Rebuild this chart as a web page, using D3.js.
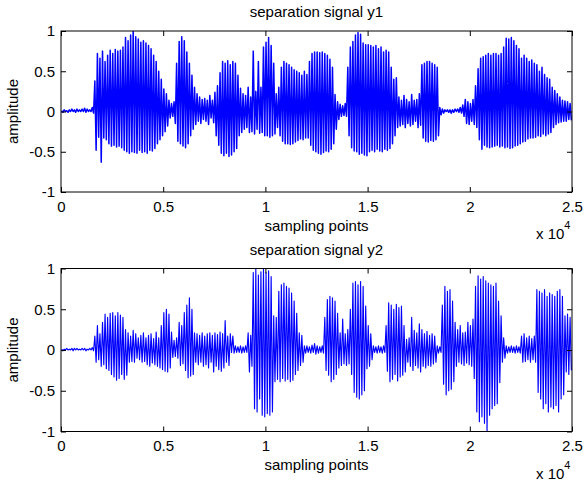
<!DOCTYPE html>
<html>
<head>
<meta charset="utf-8">
<script src="https://cdn.jsdelivr.net/npm/d3@7"></script>
<style>
  body { margin: 0; background: #fff; }
  text { font-family: "Liberation Sans", Arial, Helvetica, sans-serif; fill: #000; }
</style>
</head>
<body>
<svg id="chart" width="584" height="483"></svg>
<script>
// Envelope of each separated signal: per bin of 125 samples, the peak and trough amplitude.
const BIN = 125;
const N_SAMPLES = 25000;

const y1Max = [
  0.01,0.02,0.01,0.02,0.03,0.02,0.03,0.02,
  0.03,0.04,0.03,0.02,0.05,0.38,0.72,0.66,
  0.75,0.62,0.70,0.76,0.72,0.77,0.75,0.76,
  0.80,0.92,0.88,0.95,1.00,0.93,0.90,0.86,
  0.88,0.85,0.82,0.78,0.70,0.62,0.50,0.40,
  0.28,0.22,0.14,0.10,0.12,0.60,0.87,0.93,
  0.88,0.74,0.60,0.45,0.30,0.22,0.18,0.15,
  0.16,0.14,0.20,0.14,0.24,0.32,0.48,0.62,
  0.60,0.63,0.58,0.62,0.60,0.45,0.29,0.22,
  0.20,0.30,0.18,0.75,0.25,0.62,0.30,0.80,
  0.86,0.92,0.82,0.60,0.22,0.30,0.55,0.62,
  0.60,0.58,0.55,0.52,0.50,0.48,0.45,0.50,
  0.46,0.62,0.72,0.74,0.74,0.73,0.74,0.72,
  0.70,0.65,0.55,0.21,0.12,0.09,0.07,0.10,
  0.55,0.80,0.87,0.95,0.98,0.96,0.85,0.83,
  0.83,0.82,0.80,0.82,0.78,0.80,0.74,0.76,
  0.74,0.55,0.40,0.42,0.18,0.14,0.20,0.15,
  0.12,0.21,0.14,0.15,0.22,0.58,0.60,0.62,
  0.62,0.60,0.58,0.55,0.05,0.03,0.02,0.02,
  0.02,0.02,0.03,0.03,0.05,0.08,0.15,0.12,
  0.10,0.15,0.32,0.53,0.66,0.68,0.70,0.72,
  0.70,0.72,0.72,0.70,0.72,0.80,0.91,0.90,
  0.92,0.88,0.82,0.78,0.66,0.70,0.66,0.62,
  0.64,0.60,0.58,0.50,0.55,0.46,0.42,0.40,
  0.30,0.26,0.22,0.18,0.14,0.13,0.12,0.10
];
const y1Min = [
  -0.01,0.00,-0.01,0.00,0.00,-0.01,0.00,0.00,
  0.00,-0.01,0.00,0.00,-0.02,-0.48,-0.32,-0.63,
  -0.33,-0.35,-0.40,-0.43,-0.42,-0.44,-0.43,-0.45,
  -0.48,-0.50,-0.52,-0.50,-0.51,-0.52,-0.48,-0.51,
  -0.50,-0.52,-0.48,-0.49,-0.46,-0.40,-0.35,-0.30,
  -0.25,-0.18,-0.08,-0.06,-0.15,-0.37,-0.40,-0.43,
  -0.45,-0.40,-0.30,-0.22,-0.16,-0.12,-0.15,-0.10,
  -0.12,-0.16,-0.08,-0.14,-0.30,-0.42,-0.52,-0.55,
  -0.52,-0.56,-0.54,-0.50,-0.46,-0.30,-0.26,-0.22,
  -0.20,-0.26,-0.25,-0.28,-0.22,-0.27,-0.26,-0.30,
  -0.30,-0.32,-0.30,-0.28,-0.20,-0.30,-0.37,-0.40,
  -0.40,-0.41,-0.40,-0.38,-0.36,-0.34,-0.35,-0.33,
  -0.33,-0.42,-0.48,-0.50,-0.52,-0.53,-0.51,-0.49,
  -0.50,-0.47,-0.40,-0.22,-0.10,-0.06,-0.05,-0.06,
  -0.30,-0.45,-0.49,-0.50,-0.53,-0.52,-0.54,-0.55,
  -0.50,-0.48,-0.50,-0.47,-0.49,-0.50,-0.47,-0.48,
  -0.46,-0.40,-0.30,-0.20,-0.18,-0.16,-0.20,-0.15,
  -0.18,-0.16,-0.12,-0.20,-0.17,-0.33,-0.37,-0.38,
  -0.36,-0.37,-0.35,-0.30,-0.04,-0.02,0.00,-0.01,
  -0.02,-0.01,0.00,-0.01,-0.02,-0.06,-0.15,-0.16,
  -0.12,-0.16,-0.20,-0.35,-0.47,-0.42,-0.44,-0.45,
  -0.44,-0.43,-0.42,-0.44,-0.43,-0.45,-0.44,-0.46,
  -0.45,-0.43,-0.42,-0.40,-0.38,-0.37,-0.34,-0.33,
  -0.33,-0.32,-0.30,-0.31,-0.28,-0.30,-0.28,-0.26,
  -0.20,-0.16,-0.14,-0.13,-0.12,-0.12,-0.10,-0.11
];

const y2Max = [
  0.01,0.01,0.02,0.01,0.02,0.02,0.02,0.01,
  0.02,0.02,0.01,0.02,0.03,0.17,0.30,0.20,
  0.34,0.44,0.40,0.45,0.46,0.42,0.46,0.43,
  0.40,0.25,0.21,0.17,0.24,0.20,0.15,0.18,
  0.21,0.15,0.18,0.20,0.14,0.22,0.15,0.30,
  0.46,0.50,0.44,0.22,0.12,0.15,0.34,0.30,
  0.46,0.55,0.64,0.50,0.21,0.20,0.18,0.21,
  0.17,0.20,0.21,0.18,0.21,0.19,0.22,0.20,
  0.36,0.17,0.20,0.17,0.05,0.04,0.05,0.04,
  0.05,0.21,0.18,0.95,0.99,0.92,0.96,0.99,
  0.95,0.97,0.90,0.42,0.40,0.72,0.80,0.82,
  0.78,0.76,0.70,0.60,0.45,0.21,0.18,0.05,
  0.05,0.04,0.06,0.08,0.05,0.04,0.05,0.40,
  0.62,0.66,0.64,0.60,0.45,0.21,0.38,0.20,
  0.25,0.50,0.82,0.84,0.80,0.84,0.78,0.54,
  0.30,0.20,0.05,0.04,0.05,0.04,0.05,0.30,
  0.58,0.55,0.50,0.56,0.52,0.54,0.30,0.13,
  0.15,0.40,0.24,0.21,0.32,0.25,0.20,0.23,
  0.18,0.20,0.17,0.05,0.04,0.55,0.78,0.72,
  0.74,0.60,0.34,0.25,0.30,0.21,0.22,0.34,
  0.30,0.38,0.78,0.91,0.87,0.90,0.85,0.82,
  0.80,0.78,0.82,0.60,0.42,0.15,0.05,0.04,
  0.05,0.04,0.05,0.04,0.17,0.20,0.15,0.17,
  0.14,0.17,0.74,0.72,0.70,0.74,0.66,0.70,
  0.68,0.66,0.72,0.74,0.66,0.42,0.44,0.40
];
const y2Min = [
  -0.01,0.00,0.00,0.00,-0.01,0.00,0.00,0.00,
  0.00,-0.01,0.00,0.00,-0.01,-0.15,-0.12,-0.20,
  -0.18,-0.23,-0.25,-0.30,-0.33,-0.37,-0.35,-0.30,
  -0.36,-0.31,-0.15,-0.14,-0.15,-0.10,-0.12,-0.15,
  -0.14,-0.18,-0.20,-0.16,-0.18,-0.20,-0.22,-0.24,
  -0.26,-0.27,-0.22,-0.09,-0.08,-0.10,-0.19,-0.17,
  -0.25,-0.34,-0.32,-0.30,-0.15,-0.18,-0.15,-0.20,
  -0.18,-0.22,-0.15,-0.27,-0.20,-0.24,-0.26,-0.22,
  -0.15,-0.19,-0.03,-0.04,-0.03,-0.03,-0.04,-0.03,
  -0.03,-0.27,-0.20,-0.72,-0.76,-0.60,-0.80,-0.82,
  -0.78,-0.80,-0.76,-0.39,-0.36,-0.39,-0.35,-0.38,
  -0.36,-0.39,-0.37,-0.30,-0.25,-0.19,-0.15,-0.04,
  -0.03,-0.04,-0.03,-0.05,-0.04,-0.03,-0.04,-0.25,
  -0.31,-0.39,-0.36,-0.30,-0.22,-0.19,-0.17,-0.19,
  -0.17,-0.30,-0.52,-0.58,-0.60,-0.55,-0.50,-0.23,
  -0.20,-0.12,-0.03,-0.04,-0.03,-0.04,-0.03,-0.26,
  -0.39,-0.36,-0.30,-0.38,-0.33,-0.31,-0.27,-0.15,
  -0.20,-0.25,-0.19,-0.22,-0.27,-0.20,-0.22,-0.19,
  -0.20,-0.17,-0.15,-0.04,-0.03,-0.42,-0.55,-0.50,
  -0.48,-0.39,-0.20,-0.15,-0.17,-0.19,-0.16,-0.18,
  -0.20,-0.35,-0.76,-0.88,-0.82,-0.90,-1.00,-0.80,
  -0.72,-0.68,-0.66,-0.40,-0.15,-0.10,-0.04,-0.03,
  -0.03,-0.04,-0.03,-0.04,-0.15,-0.14,-0.12,-0.15,
  -0.12,-0.15,-0.52,-0.60,-0.72,-0.66,-0.76,-0.70,
  -0.72,-0.68,-0.76,-0.60,-0.55,-0.27,-0.30,-0.25
];

const xTicks = [0, 5000, 10000, 15000, 20000, 25000];
const xTickLabels = ["0", "0.5", "1", "1.5", "2", "2.5"];
const yTicks = [-1, -0.5, 0, 0.5, 1];
const yTickLabels = ["-1", "-0.5", "0", "0.5", "1"];
const titles = ["separation signal y1", "separation signal y2"];
const xLabel = "sampling points";
const yLabel = "amplitude";

const svg = d3.select("#chart");
const left = 61, right = 572;
const panels = [
  { top: 31, bottom: 192, title: titles[0], hi: y1Max, lo: y1Min, lw: 1.5 },
  { top: 268.5, bottom: 431.5, title: titles[1], hi: y2Max, lo: y2Min, lw: 1.15 }
];
const FONT = 15;
const TICK = 5;

const x = d3.scaleLinear().domain([0, N_SAMPLES]).range([left, right]);

panels.forEach((p, k) => {
  const y = d3.scaleLinear().domain([-1, 1]).range([p.bottom, p.top]);
  const g = svg.append("g");

  const clipId = "clip" + k;
  svg.append("clipPath").attr("id", clipId)
    .append("rect").attr("x", left).attr("y", p.top)
    .attr("width", right - left).attr("height", p.bottom - p.top);

  // zig-zag through each bin's peak and trough
  const pts = [];
  p.hi.forEach((v, i) => {
    pts.push([i * BIN + BIN * 0.25, v]);
    pts.push([i * BIN + BIN * 0.75, p.lo[i]]);
  });
  const line = d3.line().x(d => x(d[0])).y(d => y(d[1]));
  g.append("path")
    .attr("clip-path", `url(#${clipId})`)
    .attr("d", line(pts))
    .attr("fill", "none")
    .attr("stroke", "#0000ff")
    .attr("stroke-width", p.lw)
    .attr("stroke-linejoin", "round");

  const fmtX = d => xTickLabels[xTicks.indexOf(d)];
  const fmtY = d => yTickLabels[yTicks.indexOf(d)];

  const axB = g.append("g").attr("transform", `translate(0,${p.bottom})`)
    .call(d3.axisBottom(x).tickValues(xTicks).tickFormat(fmtX)
      .tickSizeInner(-TICK).tickSizeOuter(0).tickPadding(9));
  const axT = g.append("g").attr("transform", `translate(0,${p.top})`)
    .call(d3.axisTop(x).tickValues(xTicks).tickFormat("")
      .tickSizeInner(-TICK).tickSizeOuter(0));
  const axL = g.append("g").attr("transform", `translate(${left},0)`)
    .call(d3.axisLeft(y).tickValues(yTicks).tickFormat(fmtY)
      .tickSizeInner(-TICK).tickSizeOuter(0).tickPadding(6));
  const axR = g.append("g").attr("transform", `translate(${right},0)`)
    .call(d3.axisRight(y).tickValues(yTicks).tickFormat("")
      .tickSizeInner(-TICK).tickSizeOuter(0));
  [axB, axT, axL, axR].forEach(a => {
    a.select(".domain").remove();
    a.selectAll("text").attr("font-size", FONT)
      .attr("font-family", '"Liberation Sans", Arial, sans-serif').attr("fill", "#000");
    a.selectAll("line").attr("stroke", "#000");
  });

  g.append("rect")
    .attr("x", left).attr("y", p.top)
    .attr("width", right - left).attr("height", p.bottom - p.top)
    .attr("fill", "none").attr("stroke", "#000").attr("stroke-width", 1);

  // title
  g.append("text")
    .attr("x", (left + right) / 2).attr("y", p.top - 14)
    .attr("text-anchor", "middle").attr("font-size", FONT)
    .text(p.title);

  // x label
  g.append("text")
    .attr("x", (left + right) / 2).attr("y", p.bottom + 38.5)
    .attr("text-anchor", "middle").attr("font-size", FONT)
    .text(xLabel);

  // y label
  g.append("text")
    .attr("transform", `translate(18,${(p.top + p.bottom) / 2}) rotate(-90)`)
    .attr("text-anchor", "middle").attr("font-size", FONT)
    .text(yLabel);

  // exponent note
  const ex = g.append("text")
    .attr("x", 536).attr("y", p.bottom + 47)
    .attr("font-size", FONT);
  ex.append("tspan").text("x 10");
  ex.append("tspan").attr("dy", -10).attr("font-size", 11).text("4");
});
</script>
</body>
</html>
